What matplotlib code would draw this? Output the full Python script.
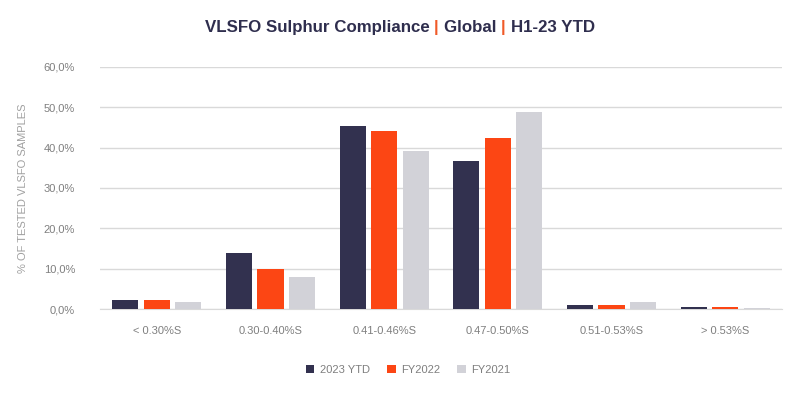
import numpy as np
import matplotlib
matplotlib.use('Agg')
import matplotlib.pyplot as plt
from matplotlib.ticker import FuncFormatter

plt.rcParams['font.family'] = ['Liberation Sans', 'DejaVu Sans']

categories = ['< 0.30%S', '0.30-0.40%S', '0.41-0.46%S', '0.47-0.50%S', '0.51-0.53%S', '> 0.53%S']
series_names = ['2023 YTD', 'FY2022', 'FY2021']
ytd_2023 = [2.2, 13.9, 45.4, 36.7, 1.0, 0.4]
fy_2022 = [2.2, 9.9, 44.2, 42.4, 1.0, 0.4]
fy_2021 = [1.7, 7.9, 39.2, 48.9, 1.7, 0.3]
colors = ['#32314f', '#fc4614', '#d2d2d8']

NAVY = '#2f2e4e'
ORANGE = '#f05a28'
GREY = '#7f7f7f'

fig = plt.figure(figsize=(8, 3.94), dpi=100)
ax = fig.add_axes([0.125, 0.2157, 0.8525, 0.6143])

x = np.arange(len(categories))
step = 0.277
width = 0.23
for i, (vals, name) in enumerate(zip([ytd_2023, fy_2022, fy_2021], series_names)):
    ax.bar(x + (i - 1) * step, vals, width, color=colors[i], label=name, zorder=3)

ax.set_xlim(-0.5, len(categories) - 0.5)
ax.set_ylim(0, 60)
ax.set_yticks(np.arange(0, 61, 10))
ax.yaxis.set_major_formatter(FuncFormatter(lambda v, p: ('%.1f%%' % v).replace('.', ',')))
ax.set_xticks(x)
ax.set_xticklabels(categories)
ax.grid(axis='y', color='#d9d9d9', linewidth=1, zorder=0)
for s in ['top', 'right', 'left']:
    ax.spines[s].set_visible(False)
ax.spines['bottom'].set_color('#d9d9d9')
ax.tick_params(axis='both', length=0, labelsize=8, colors=GREY)
ax.tick_params(axis='y', pad=18)
ax.tick_params(axis='x', pad=12)
ax.set_ylabel('% OF TESTED VLSFO SAMPLES', fontsize=8, color='#a0a0a0', labelpad=11)

leg = fig.legend(loc='center', bbox_to_anchor=(0.51, 0.061), ncol=3, frameon=False,
                 fontsize=8, handlelength=0.8, handleheight=0.8, columnspacing=1.5,
                 handletextpad=0.5)
for t in leg.get_texts():
    t.set_color(GREY)

# title in pieces with orange separators
pieces = [('VLSFO Sulphur Compliance ', NAVY), ('| ', ORANGE), ('Global ', NAVY),
          ('| ', ORANGE), ('H1-23 YTD', NAVY)]
renderer = fig.canvas.get_renderer()
texts = []
for s, c in pieces:
    t = fig.text(0, 0.93, s, fontsize=12.2, fontweight='bold', color=c, va='center')
    texts.append(t)
widths = [t.get_window_extent(renderer).width for t in texts]
total = sum(widths)
xpos = 205
for t, w in zip(texts, widths):
    t.set_x(xpos / fig.bbox.width)
    xpos += w

fig.savefig('out.png', dpi=100)
